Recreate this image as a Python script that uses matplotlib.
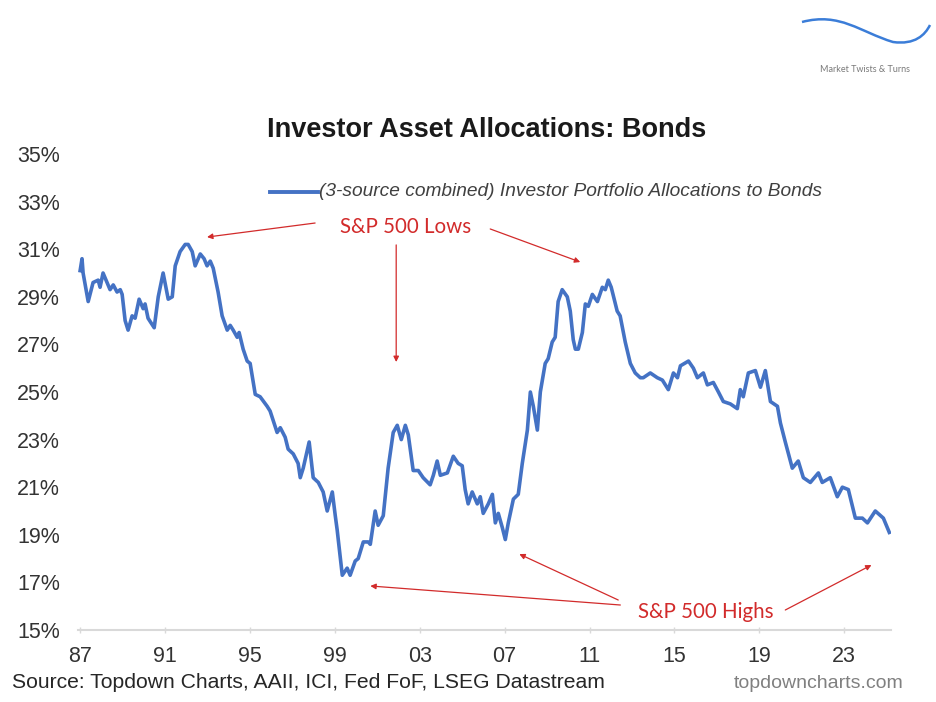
import matplotlib
matplotlib.use("Agg")
import matplotlib.pyplot as plt
from matplotlib.path import Path
from matplotlib.patches import PathPatch

# (3-source combined) investor portfolio allocation to bonds, %
years = [
    1987.00, 1987.09, 1987.14, 1987.38, 1987.61, 1987.85, 1987.94, 1988.08, 1988.27, 1988.41,
    1988.56, 1988.74, 1988.89, 1988.98, 1989.12, 1989.26, 1989.45, 1989.59, 1989.78, 1989.97,
    1990.06, 1990.20, 1990.49, 1990.68, 1990.91, 1991.15, 1991.34, 1991.48, 1991.71, 1991.95,
    1992.09, 1992.28, 1992.42, 1992.66, 1992.84, 1992.98, 1993.13, 1993.27, 1993.50, 1993.69,
    1993.93, 1994.07, 1994.21, 1994.40, 1994.49, 1994.68, 1994.87, 1995.01, 1995.25, 1995.48,
    1995.81, 1995.95, 1996.28, 1996.43, 1996.66, 1996.80, 1997.04, 1997.27, 1997.37, 1997.51,
    1997.79, 1997.98, 1998.22, 1998.45, 1998.64, 1998.88, 1999.02, 1999.11, 1999.35, 1999.58,
    1999.72, 1999.96, 2000.10, 2000.34, 2000.57, 2000.67, 2000.90, 2001.04, 2001.28, 2001.51,
    2001.75, 2001.94, 2002.13, 2002.32, 2002.46, 2002.69, 2002.93, 2003.16, 2003.49, 2003.64,
    2003.82, 2003.97, 2004.30, 2004.58, 2004.81, 2005.00, 2005.14, 2005.28, 2005.47, 2005.71,
    2005.85, 2005.99, 2006.23, 2006.42, 2006.56, 2006.70, 2006.89, 2007.03, 2007.17, 2007.41,
    2007.64, 2007.83, 2008.07, 2008.21, 2008.35, 2008.54, 2008.68, 2008.91, 2009.05, 2009.24,
    2009.38, 2009.52, 2009.71, 2009.95, 2010.09, 2010.23, 2010.33, 2010.47, 2010.66, 2010.80,
    2010.94, 2011.13, 2011.37, 2011.60, 2011.74, 2011.88, 2012.02, 2012.30, 2012.44, 2012.68,
    2012.92, 2013.15, 2013.39, 2013.53, 2013.86, 2014.19, 2014.43, 2014.71, 2014.95, 2015.14,
    2015.28, 2015.66, 2015.89, 2016.08, 2016.36, 2016.55, 2016.83, 2017.07, 2017.30, 2017.63,
    2017.96, 2018.10, 2018.24, 2018.48, 2018.81, 2019.05, 2019.28, 2019.52, 2019.85, 2019.99,
    2020.22, 2020.55, 2020.83, 2021.07, 2021.40, 2021.78, 2021.96, 2022.34, 2022.67, 2022.91,
    2023.19, 2023.52, 2023.85, 2024.09, 2024.46, 2024.84, 2025.12,
]
bonds = [
    30.1, 30.6, 30.0, 28.8, 29.6, 29.7, 29.4, 30.0, 29.6, 29.3,
    29.5, 29.2, 29.3, 29.1, 28.0, 27.6, 28.2, 28.1, 28.9, 28.5,
    28.7, 28.1, 27.7, 29.0, 30.0, 28.9, 29.0, 30.3, 30.9, 31.2,
    31.2, 30.9, 30.3, 30.8, 30.6, 30.3, 30.5, 30.2, 29.2, 28.2,
    27.6, 27.8, 27.6, 27.3, 27.5, 26.8, 26.3, 26.2, 24.9, 24.8,
    24.4, 24.2, 23.3, 23.5, 23.1, 22.6, 22.4, 22.0, 21.4, 21.8,
    22.9, 21.4, 21.2, 20.8, 20.0, 20.8, 19.8, 19.2, 17.3, 17.6,
    17.3, 17.9, 18.0, 18.7, 18.7, 18.6, 20.0, 19.4, 19.8, 21.8,
    23.3, 23.6, 23.0, 23.6, 23.2, 21.7, 21.7, 21.4, 21.1, 21.5,
    22.1, 21.5, 21.6, 22.3, 22.0, 21.9, 20.9, 20.3, 20.8, 20.3,
    20.6, 19.9, 20.3, 20.7, 19.5, 19.9, 19.3, 18.8, 19.5, 20.5,
    20.7, 22.0, 23.4, 25.0, 24.4, 23.4, 25.0, 26.2, 26.4, 27.1,
    27.3, 28.8, 29.3, 29.0, 28.4, 27.2, 26.8, 26.8, 27.5, 28.7,
    28.6, 29.1, 28.8, 29.4, 29.3, 29.7, 29.4, 28.4, 28.2, 27.1,
    26.2, 25.8, 25.6, 25.6, 25.8, 25.6, 25.5, 25.1, 25.8, 25.6,
    26.1, 26.3, 26.0, 25.6, 25.8, 25.3, 25.4, 25.0, 24.6, 24.5,
    24.3, 25.1, 24.8, 25.8, 25.9, 25.2, 25.9, 24.6, 24.4, 23.7,
    22.9, 21.8, 22.1, 21.4, 21.2, 21.6, 21.2, 21.4, 20.6, 21.0,
    20.9, 19.7, 19.7, 19.5, 20.0, 19.7, 19.1,
]

xtick_years = [1987, 1991, 1995, 1999, 2003, 2007, 2011, 2015, 2019, 2023]
xtick_labels = ["87", "91", "95", "99", "03", "07", "11", "15", "19", "23"]
ytick_vals = [15, 17, 19, 21, 23, 25, 27, 29, 31, 33, 35]

blue = "#4472c4"
red = "#d22b2b"
W, H = 936, 702

fig = plt.figure(figsize=(W / 100, H / 100), dpi=100)
ax = fig.add_axes([78 / W, 72 / H, (891 - 78) / W, (630 - 154) / H])

ax.plot(years, bonds, color=blue, lw=2.6, solid_joinstyle="round")

ax.set_xlim(1986.9, 2025.2)
ax.set_ylim(15, 35)
ax.set_xticks(xtick_years)
ax.set_xticklabels(xtick_labels, family="Liberation Sans", fontsize=15.5, color="#333333")
ax.set_yticks(ytick_vals)
ax.set_yticklabels([f"{v}%" for v in ytick_vals], family="Liberation Sans",
                   fontsize=15.5, color="#333333")
ax.tick_params(axis="y", length=0, pad=13)
ax.tick_params(axis="x", length=5, direction="inout", color="#d9d9d9", width=1, pad=9)
for s in ["left", "right", "top"]:
    ax.spines[s].set_visible(False)
ax.spines["bottom"].set_color("#d9d9d9")
ax.spines["bottom"].set_linewidth(1.5)

# title and legend
fig.text(487 / W, 1 - 130 / H, "Investor Asset Allocations: Bonds", ha="center", va="center",
         family="Liberation Sans", weight="bold", fontsize=19.5, color="#1a1a1a")
fig.add_artist(plt.Line2D([270 / W, 318 / W], [1 - 192 / H, 1 - 192 / H], color=blue, lw=2.8))
fig.text(319 / W, 1 - 192 / H, "(3-source combined) Investor Portfolio Allocations to Bonds",
         ha="left", va="center", family="Liberation Sans", style="italic", fontsize=13.8,
         color="#404040")

# S&P 500 annotations
arrow = dict(arrowstyle="-|>", color=red, lw=0.9, mutation_scale=8, shrinkA=0, shrinkB=0)
ax.text(2002.32, 31.93, "S&P 500 Lows", ha="center", va="center", family="Lato",
        fontsize=14.8, color=red)
ax.annotate("", xy=(1992.98, 31.51), xytext=(1998.07, 32.10), arrowprops=arrow)
ax.annotate("", xy=(2001.89, 26.26), xytext=(2001.89, 31.18), arrowprops=arrow)
ax.annotate("", xy=(2010.56, 30.46), xytext=(2006.32, 31.85), arrowprops=arrow)

ax.text(2016.45, 15.76, "S&P 500 Highs", ha="center", va="center", family="Lato",
        fontsize=14.8, color=red)
ax.annotate("", xy=(2000.67, 16.85), xytext=(2012.45, 16.05), arrowprops=arrow)
ax.annotate("", xy=(2007.69, 18.19), xytext=(2012.35, 16.26), arrowprops=arrow)
ax.annotate("", xy=(2024.28, 17.73), xytext=(2020.22, 15.84), arrowprops=arrow)

# footer
fig.text(12 / W, 1 - 683 / H, "Source: Topdown Charts, AAII, ICI, Fed FoF, LSEG Datastream",
         ha="left", va="center", family="Liberation Sans", fontsize=15.2, color="#262626")
fig.text(903 / W, 1 - 683 / H, "topdowncharts.com", ha="right", va="center",
         family="Liberation Sans", fontsize=14, color="#808080")

# logo (top right)
verts = [(802, 22), (840, 12), (860, 32), (893, 42), (915, 45), (925, 35), (930, 25)]
verts = [(x / W, 1 - y / H) for x, y in verts]
codes = [Path.MOVETO, Path.CURVE4, Path.CURVE4, Path.CURVE4, Path.CURVE4, Path.CURVE4, Path.CURVE4]
fig.add_artist(PathPatch(Path(verts, codes), fill=False, edgecolor="#3b7dd8", lw=1.8,
                         transform=fig.transFigure))
fig.text(865 / W, 1 - 69 / H, "Market Twists & Turns", ha="center", va="center",
         family="Lato", fontsize=6.5, color="#7a7a7a")

fig.savefig("out.png", dpi=100)
